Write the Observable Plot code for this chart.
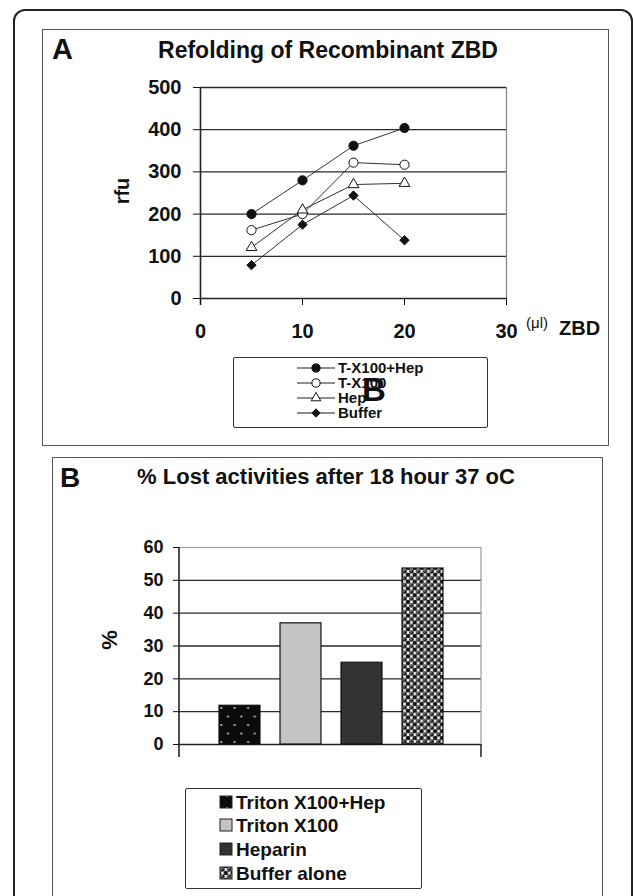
<!DOCTYPE html>
<html><head><meta charset="utf-8">
<script src="https://cdn.jsdelivr.net/npm/d3@7"></script>
<script src="https://cdn.jsdelivr.net/npm/@observablehq/plot@0.6"></script>
<style>
body{margin:0;background:#fff;}
#page{position:relative;width:633px;height:896px;overflow:hidden;background:#fff;font-family:"Liberation Sans",Arial,sans-serif;font-weight:bold;color:#111;}
.abs{position:absolute;white-space:nowrap;line-height:1;}
.box{position:absolute;box-sizing:border-box;}
#page svg{position:absolute;overflow:visible;}
</style></head><body>
<svg width="0" height="0" style="position:absolute">
<defs>
<pattern id="pDots" width="13.4" height="17" patternUnits="userSpaceOnUse" x="218" y="0">
<rect width="13.4" height="17" fill="#0b0b0b"/>
<circle cx="3.3" cy="4" r="1.1" fill="#c8c8c8"/>
<circle cx="10" cy="12.5" r="1.1" fill="#c8c8c8"/>
</pattern>
<pattern id="pBalls" width="6.8" height="6.8" patternUnits="userSpaceOnUse">
<rect width="6.8" height="6.8" fill="#fff"/>
<circle cx="0" cy="0" r="2.3" fill="#151515"/>
<circle cx="6.8" cy="0" r="2.3" fill="#151515"/>
<circle cx="0" cy="6.8" r="2.3" fill="#151515"/>
<circle cx="6.8" cy="6.8" r="2.3" fill="#151515"/>
<circle cx="3.4" cy="3.4" r="2.3" fill="#151515"/>
<circle cx="2.9" cy="2.9" r="0.7" fill="#e0e0e0"/>
</pattern>
<pattern id="pDotsSmall" width="12" height="12" patternUnits="userSpaceOnUse">
<rect width="12" height="12" fill="#0b0b0b"/>
<circle cx="6" cy="6" r="1" fill="#ddd"/>
</pattern>
</defs>
</svg>
<div id="page">
  <div class="box" style="left:13px;top:9px;width:620px;height:910px;border:2px solid #222;border-radius:12px;"></div>
  <div class="box" style="left:42px;top:29px;width:567px;height:417px;border:1.5px solid #555;"></div>
  <div class="box" style="left:52px;top:457px;width:551px;height:460px;border:1.5px solid #555;"></div>

  <div class="abs" style="left:52px;top:35px;font-size:29px;">A</div>
  <div class="abs" style="left:28px;width:600px;text-align:center;top:39px;font-size:23px;">Refolding of Recombinant ZBD</div>
  <div class="abs" style="left:122px;top:191px;font-size:20px;transform:translate(-50%,-50%) rotate(-90deg);">rfu</div>
  <div class="abs" style="left:526px;top:315px;font-size:15px;font-weight:normal;">(μl)</div>
  <div class="abs" style="left:559px;top:318px;font-size:20px;">ZBD</div>

  <div class="abs" style="left:60px;top:464px;font-size:28px;">B</div>
  <div class="abs" style="left:26px;width:600px;text-align:center;top:466px;font-size:22px;">% Lost activities after 18 hour 37 oC</div>
  <div class="abs" style="left:110px;top:640px;font-size:22px;transform:translate(-50%,-50%) rotate(-90deg);">%</div>

  <div class="box" style="left:233px;top:357px;width:255px;height:71px;border:1.5px solid #333;border-radius:2px;"></div>
  <div class="box" style="left:185px;top:788px;width:237px;height:101px;border:1.5px solid #333;border-radius:2px;"></div>
</div>
<script>
// ---------- Data: panel A ----------
const xZbd = [5, 10, 15, 20];
const seriesNames = ["T-X100+Hep", "T-X100", "Hep", "Buffer"];
const txHep = [200, 280, 362, 404];
const tx100 = [162, 200, 322, 317];
const hep = [121, 210, 270, 273];
const buffer = [79, 175, 244, 138];
const yTicksA = [0, 100, 200, 300, 400, 500];
const xTicksA = [0, 10, 20, 30];

// ---------- Data: panel B ----------
const categoriesB = ["Triton X100+Hep", "Triton X100", "Heparin", "Buffer alone"];
const lostPct = [11.8, 36.9, 24.9, 53.6];
const yTicksB = [0, 10, 20, 30, 40, 50, 60];

const page = document.getElementById("page");
const FONT = '"Liberation Sans", Arial, sans-serif';

// table for A
const seriesValues = [txHep, tx100, hep, buffer];
const tableA = [];
seriesNames.forEach((s, k) => xZbd.forEach((x, i) => tableA.push({series: s, x, y: seriesValues[k][i]})));

const markerStyle = {
  "T-X100+Hep": {symbol: "circle", fill: "#111", r: 4.6},
  "T-X100": {symbol: "circle", fill: "#fff", r: 4.6},
  "Hep": {symbol: "triangle", fill: "#fff", r: 4},
  "Buffer": {symbol: "diamond2", fill: "#111", r: 4.2}
};

const plotA = Plot.plot({
  width: 633, height: 345,
  marginLeft: 200, marginRight: 127, marginTop: 87, marginBottom: 47,
  style: {fontFamily: FONT, fontSize: "20px", fontWeight: "bold", color: "#111", background: "transparent", overflow: "visible"},
  x: {domain: [0, 30], axis: null},
  y: {domain: [0, 500], axis: null},
  marks: [
    Plot.ruleY(yTicksA.filter(d => d > 0), {stroke: "#2a2a2a", strokeWidth: 1.3}),
    Plot.ruleX([30], {stroke: "#8a8a8a", strokeWidth: 1.3}),
    Plot.ruleY([0], {stroke: "#222", strokeWidth: 1.6}),
    Plot.ruleX([0], {stroke: "#222", strokeWidth: 1.6, insetBottom: -7}),
    Plot.axisY({ticks: yTicksA, tickSize: 7, tickPadding: 12, label: null, tickFormat: d => d}),
    Plot.axisX({ticks: xTicksA, tickSize: 7, tickPadding: 18, label: null, tickFormat: d => d}),
    Plot.line(tableA, {x: "x", y: "y", z: "series", stroke: "#333", strokeWidth: 1}),
    ...seriesNames.map(s => Plot.dot(tableA, {
      filter: d => d.series === s, x: "x", y: "y",
      symbol: () => markerStyle[s].symbol,
      fill: markerStyle[s].fill, stroke: "#111", strokeWidth: 1, r: markerStyle[s].r
    }))
  ]
});
plotA.style.left = "0px"; plotA.style.top = "0px";
page.appendChild(plotA);

// ---------- Panel B ----------
const tableB = categoriesB.map((c, i) => ({cat: c, val: lostPct[i]}));
const fillsB = ["url(#pDots)", "#c3c3c3", "#333333", "url(#pBalls)"];
const fillsLegendB = ["url(#pDotsSmall)", "#c3c3c3", "#333333", "url(#pBalls)"];
const B_TOP = 500;
const plotB = Plot.plot({
  width: 633, height: 270,
  marginLeft: 179, marginRight: 152, marginTop: 47, marginBottom: 26,
  style: {fontFamily: FONT, fontSize: "18px", fontWeight: "bold", color: "#111", background: "transparent", overflow: "visible"},
  x: {type: "band", domain: categoriesB, range: [218, 443], paddingInner: 0.333, paddingOuter: 0, axis: null},
  y: {domain: [0, 60], axis: null},
  color: {type: "ordinal", domain: categoriesB, range: fillsB},
  marks: [
    Plot.ruleY(yTicksB.filter(d => d > 0 && d < 60), {stroke: "#2a2a2a", strokeWidth: 1.3}),
    Plot.ruleY([60], {stroke: "#999", strokeWidth: 1.2}),
    Plot.ruleY([0], {stroke: "#222", strokeWidth: 1.6}),
    Plot.axisY({ticks: yTicksB, tickSize: 6, tickPadding: 10, label: null, tickFormat: d => d}),
    Plot.barY(tableB, {x: "cat", y: "val", fill: "cat", stroke: "#111", strokeWidth: 1.2})
  ]
});
plotB.style.left = "0px"; plotB.style.top = B_TOP + "px";
page.appendChild(plotB);
// frame decorations for panel B (axis line, end ticks, right border)
{
  const svg = d3.select(plotB);
  const yB = plotB.scale("y");
  const left = 179, right = 633 - 152;
  const y0 = yB.apply(0), y60 = yB.apply(60);
  svg.append("line").attr("x1", right).attr("x2", right).attr("y1", y60).attr("y2", y0).attr("stroke", "#999").attr("stroke-width", 1.2);
  svg.append("line").attr("x1", right).attr("x2", right).attr("y1", y0).attr("y2", y0 + 13).attr("stroke", "#222").attr("stroke-width", 1.5);
  svg.append("line").attr("x1", left).attr("x2", left).attr("y1", y60).attr("y2", y0 + 13).attr("stroke", "#222").attr("stroke-width", 1.6);
}

// ---------- Legend A ----------
{
  const svg = d3.select(page).append("svg").attr("width", 255).attr("height", 71)
    .style("left", "233px").style("top", "357px");
  const rowY = [11, 26, 41, 56];
  const sym = {circle: d3.symbolCircle, triangle: d3.symbolTriangle, diamond2: d3.symbolDiamond2};
  seriesNames.forEach((s, i) => {
    const g = svg.append("g").attr("transform", `translate(0,${rowY[i]})`);
    g.append("line").attr("x1", 64).attr("x2", 102).attr("stroke", "#222").attr("stroke-width", 1.2);
    const m = markerStyle[s];
    g.append("path").attr("transform", "translate(83,0)")
      .attr("d", d3.symbol(sym[m.symbol], Math.PI * m.r * m.r * 0.8)())
      .attr("fill", m.fill).attr("stroke", "#111");
    g.append("text").attr("x", 105).attr("y", 5.4).text(s)
      .attr("font-family", FONT).attr("font-weight", "bold").attr("font-size", 15).attr("fill", "#111");
  });
  svg.append("text").attr("x", 129).attr("y", 44).text("B")
    .attr("font-family", FONT).attr("font-weight", "bold").attr("font-size", 33).attr("fill", "#111");
}

// ---------- Legend B ----------
{
  const svg = d3.select(page).append("svg").attr("width", 237).attr("height", 101)
    .style("left", "185px").style("top", "788px");
  const rowY = [14, 37, 61, 85];
  categoriesB.forEach((c, i) => {
    const g = svg.append("g").attr("transform", `translate(0,${rowY[i]})`);
    g.append("rect").attr("x", 35).attr("y", -6).attr("width", 12).attr("height", 12)
      .attr("fill", fillsLegendB[i]).attr("stroke", "#222").attr("stroke-width", 1);
    g.append("text").attr("x", 51).attr("y", 6.8).text(c)
      .attr("font-family", FONT).attr("font-weight", "bold").attr("font-size", 19).attr("fill", "#111");
  });
}
</script>
</body></html>
